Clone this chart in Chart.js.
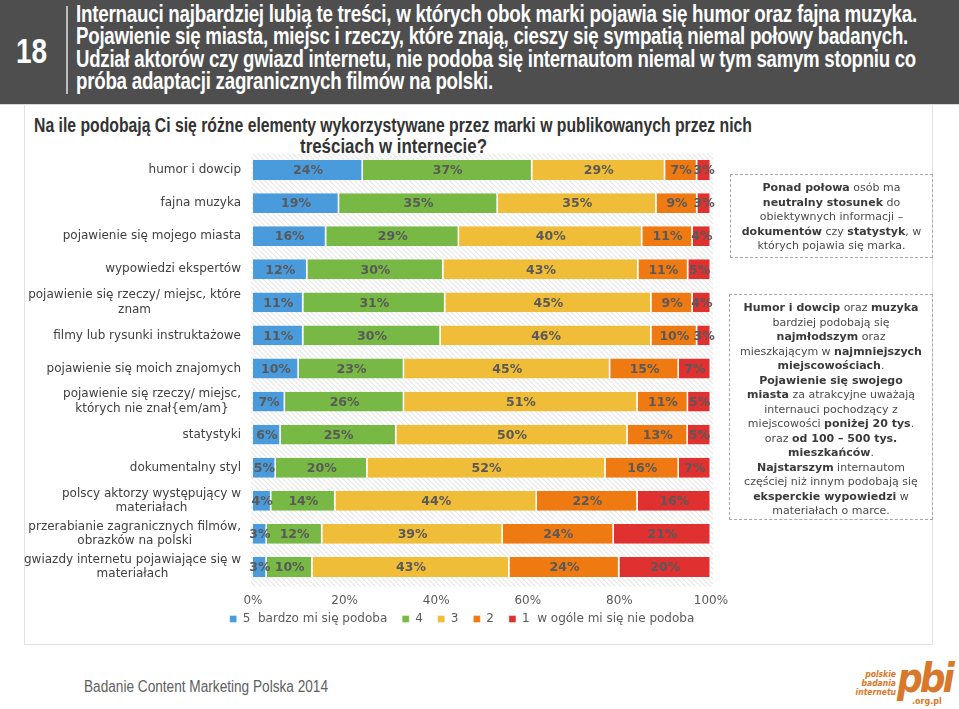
<!DOCTYPE html>
<html>
<head>
<meta charset="utf-8">
<script src="https://cdn.jsdelivr.net/npm/chart.js@4.4.1/dist/chart.umd.min.js"></script>
<style>
  html, body { margin:0; padding:0; background:#fff; width:959px; height:709px; overflow:hidden; position:relative; }
  #header { position:absolute; left:0; top:0; width:959px; height:104px; background:#4e4e4e; border-bottom:1px solid #d8d8d8; }
  #num { position:absolute; left:16px; top:31px; color:#fff; font:bold 35px "Liberation Sans Narrow", "Liberation Sans", sans-serif; transform:scaleX(0.8); transform-origin:left top; }
  #sep { position:absolute; left:66px; top:6px; width:2px; height:88px; background:#bdbdbd; }
  .hl { position:absolute; left:76px; white-space:nowrap; color:#fff; font:bold 23px "Liberation Sans Narrow", "Liberation Sans", sans-serif; transform-origin:left center; line-height:22px; letter-spacing:-0.3px; }
  #panel { position:absolute; left:24px; top:105px; width:909px; height:540px; border:1px solid #e2e2e2; border-top:none; box-sizing:border-box; }
  .tl { position:absolute; white-space:nowrap; color:#333; font:bold 20px "Liberation Sans Narrow", "Liberation Sans", sans-serif; transform-origin:left center; line-height:20px; }
  #chartbox { position:absolute; left:24px; top:140px; width:876px; height:495px; }
  .note { position:absolute; border:1px dashed #a8a8a8; box-sizing:border-box; text-align:center; color:#4a4a4a; font:11px "DejaVu Sans", Verdana, sans-serif; line-height:14.5px; }
  .note b { color:#3a3a3a; }
  #footer { position:absolute; left:84px; top:678px; color:#606060; font:16px "Liberation Sans Narrow", "Liberation Sans", sans-serif; white-space:nowrap; transform-origin:left center; }
  .logo { position:absolute; color:#d9772a; white-space:nowrap; }
</style>
</head>
<body>
<div id="header">
  <div id="num">18</div>
  <div id="sep"></div>
  <div class="hl" data-w="841" style="top:3px">Internauci najbardziej lubią te treści, w których obok marki pojawia się humor oraz fajna muzyka.</div>
  <div class="hl" data-w="832" style="top:25px">Pojawienie się miasta, miejsc i rzeczy, które znają, cieszy się sympatią niemal połowy badanych.</div>
  <div class="hl" data-w="840" style="top:48px">Udział aktorów czy gwiazd internetu, nie podoba się internautom niemal w tym samym stopniu co</div>
  <div class="hl" data-w="417" style="top:70px">próba adaptacji zagranicznych filmów na polski.</div>
</div>
<div id="panel"></div>
<div class="tl" data-w="718" data-c="393" style="top:115px">Na ile podobają Ci się różne elementy wykorzystywane przez marki w publikowanych przez nich</div>
<div class="tl" data-w="187" data-c="393" style="top:136px">treściach w internecie?</div>
<div id="chartbox"><canvas id="c" width="876" height="495"></canvas></div>
<div class="note" style="left:730px; top:174px; width:203px; height:84px; padding-top:6px;">
  <b>Ponad połowa</b> osób ma<br><b>neutralny stosunek</b> do<br>obiektywnych informacji –<br><b>dokumentów</b> czy <b>statystyk</b>, w<br>których pojawia się marka.
</div>
<div class="note" style="left:729px; top:294px; width:204px; height:226px; padding-top:6px;">
  <b>Humor i dowcip</b> oraz <b>muzyka</b><br>bardziej podobają się<br><b>najmłodszym</b> oraz<br>mieszkającym w <b>najmniejszych</b><br><b>miejscowościach</b>.<br><b>Pojawienie się swojego</b><br><b>miasta</b> za atrakcyjne uważają<br>internauci pochodzący z<br>miejscowości <b>poniżej 20 tys</b>.<br>oraz <b>od 100 – 500 tys.</b><br><b>mieszkańców</b>.<br><b>Najstarszym</b> internautom<br>częściej niż innym podobają się<br><b>eksperckie wypowiedzi</b> w<br>materiałach o marce.
</div>
<div id="footer" data-w="244">Badanie Content Marketing Polska 2014</div>
<div class="logo" style="left:852px; top:670px; width:44px; text-align:right; font:italic bold 8.5px/9px 'DejaVu Sans Condensed','DejaVu Sans',sans-serif;">polskie<br>badania<br>internetu</div>
<div class="logo" style="left:897px; top:656px; font:italic bold 40px/44px 'DejaVu Sans Condensed','DejaVu Sans',sans-serif; letter-spacing:-3px;">pbi</div>
<div class="logo" style="left:912px; top:698px; font:bold 8px/8px 'DejaVu Sans',sans-serif;">.org.pl</div>

<script>
// ---- data ----
const categories = [
  ["humor i dowcip"],
  ["fajna muzyka"],
  ["pojawienie się mojego miasta"],
  ["wypowiedzi ekspertów"],
  ["pojawienie się rzeczy/ miejsc, które", "znam"],
  ["filmy lub rysunki instruktażowe"],
  ["pojawienie się moich znajomych"],
  ["pojawienie się rzeczy/ miejsc,", "których nie znał{em/am}"],
  ["statystyki"],
  ["dokumentalny styl"],
  ["polscy aktorzy występujący w", "materiałach"],
  ["przerabianie zagranicznych filmów,", "obrazków na polski"],
  ["gwiazdy internetu pojawiające się w", "materiałach"]
];
const seriesNames = ["5  bardzo mi się podoba", "4", "3", "2", "1  w ogóle mi się nie podoba"];
const s5 = [24, 19, 16, 12, 11, 11, 10, 7, 6, 5, 4, 3, 3];
const s4 = [37, 35, 29, 30, 31, 30, 23, 26, 25, 20, 14, 12, 10];
const s3 = [29, 35, 40, 43, 45, 46, 45, 51, 50, 52, 44, 39, 43];
const s2 = [7, 9, 11, 11, 9, 10, 15, 11, 13, 16, 22, 24, 24];
const s1 = [3, 3, 4, 5, 4, 3, 7, 5, 5, 7, 16, 21, 20];
const xTicks = [0, 20, 40, 60, 80, 100];
const colors = ["#4a9bdc", "#78b844", "#efbd38", "#ef7a12", "#e0302f"];

// fit header/title/footer text widths
document.querySelectorAll('[data-w]').forEach(el => {
  const w = el.getBoundingClientRect().width;
  const target = +el.dataset.w;
  el.style.transform = 'scaleX(' + (target / w) + ')';
  if (el.dataset.c) el.style.left = (+el.dataset.c - target / 2) + 'px';
});

// 100% stacked: normalize each row
const allSeries = [s5, s4, s3, s2, s1];
const rowSums = categories.map((_, i) => allSeries.reduce((a, s) => a + s[i], 0));

const hatchPlugin = {
  id: 'hatch',
  beforeDatasetsDraw(chart) {
    const { ctx, chartArea: a } = chart;
    const p = document.createElement('canvas');
    p.width = 5; p.height = 5;
    const pc = p.getContext('2d');
    pc.fillStyle = '#ffffff'; pc.fillRect(0, 0, 5, 5);
    pc.strokeStyle = '#e6e6e6'; pc.lineWidth = 1.1;
    pc.beginPath(); pc.moveTo(-1, -1); pc.lineTo(6, 6); pc.moveTo(-1, 4); pc.lineTo(1, 6); pc.moveTo(4, -1); pc.lineTo(6, 1); pc.stroke();
    ctx.save();
    ctx.fillStyle = ctx.createPattern(p, 'repeat');
    ctx.fillRect(a.left - 2, a.top, a.right - a.left + 4, a.bottom - a.top + 3);
    ctx.restore();
  }
};

const labelPlugin = {
  id: 'segLabels',
  afterDatasetsDraw(chart) {
    const { ctx } = chart;
    ctx.save();
    ctx.font = 'bold 12.5px "DejaVu Sans", Verdana, sans-serif';
    ctx.fillStyle = '#595959';
    ctx.textAlign = 'center';
    ctx.textBaseline = 'middle';
    chart.data.datasets.forEach((ds, di) => {
      const meta = chart.getDatasetMeta(di);
      meta.data.forEach((bar, j) => {
        const p = bar.getProps(['x', 'y', 'base'], true);
        ctx.fillText(ds.raw[j] + '%', (p.x + p.base) / 2, p.y + 1);
      });
    });
    ctx.restore();
  }
};

const yLabelPlugin = {
  id: 'yLabels',
  afterDraw(chart) {
    const { ctx } = chart;
    const sc = chart.scales.y;
    const right = 217;
    const lh = 14.5;
    ctx.save();
    ctx.font = '12px "DejaVu Sans", Verdana, sans-serif';
    ctx.fillStyle = '#404040';
    ctx.textAlign = 'center';
    ctx.textBaseline = 'middle';
    categories.forEach((lines, i) => {
      const y = sc.getPixelForTick(i);
      const maxW = Math.max(...lines.map(l => ctx.measureText(l).width));
      const cx = right - maxW / 2;
      const y0 = y - (lines.length - 1) * lh / 2;
      lines.forEach((l, k) => ctx.fillText(l, cx, y0 + k * lh));
    });
    ctx.restore();
  }
};

new Chart(document.getElementById('c'), {
  type: 'bar',
  data: {
    labels: categories,
    datasets: allSeries.map((s, k) => ({
      label: seriesNames[k],
      raw: s,
      data: s.map((v, i) => v / rowSums[i] * 100),
      backgroundColor: colors[k],
      borderColor: '#ffffff',
      borderWidth: { left: 0, right: 1.5, top: 0, bottom: 0 },
      borderSkipped: false,
      barPercentage: 0.6,
      categoryPercentage: 1
    }))
  },
  options: {
    indexAxis: 'y',
    responsive: false,
    animation: false,
    layout: { padding: { left: 0, right: 0, top: 13.5, bottom: 0 } },
    scales: {
      x: {
        stacked: true, min: 0, max: 100,
        afterBuildTicks: ax => { ax.ticks = xTicks.map(v => ({ value: v })); },
        afterFit: s => { s.height = 26; },
        ticks: { callback: v => v + '%', color: '#595959', font: { family: '"DejaVu Sans", Verdana, sans-serif', size: 12 }, padding: 10.3, maxRotation: 0 },
        grid: { display: false, drawTicks: false },
        border: { display: false }
      },
      y: {
        stacked: true,
        afterFit: s => { s.width = 229; },
        ticks: { display: false },
        grid: { display: false, drawTicks: false },
        border: { display: false }
      },
      yRight: {
        type: 'linear',
        position: 'right',
        afterFit: s => { s.width = 189; },
        ticks: { display: false },
        grid: { display: false, drawTicks: false },
        border: { display: false }
      }
    },
    plugins: {
      legend: {
        position: 'bottom',
        labels: {
          boxWidth: 7, boxHeight: 7, padding: 3.5,
          color: '#595959',
          font: { family: '"DejaVu Sans", Verdana, sans-serif', size: 12 },
          generateLabels: chart => {
            const items = Chart.defaults.plugins.legend.labels.generateLabels(chart);
            items.forEach((it, i) => { if (i < items.length - 1) it.text += '   '; });
            return items;
          }
        }
      },
      tooltip: { enabled: false }
    }
  },
  plugins: [hatchPlugin, labelPlugin, yLabelPlugin]
});
</script>
</body>
</html>
